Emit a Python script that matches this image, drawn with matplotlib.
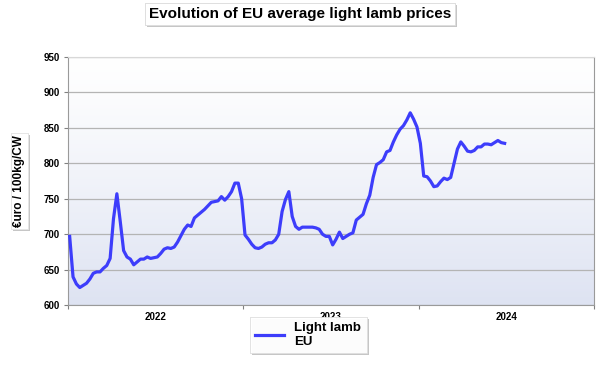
import numpy as np
import matplotlib
matplotlib.use('Agg')
import matplotlib.pyplot as plt
import matplotlib.patheffects as pe

plt.rcParams['font.family'] = ['Liberation Sans', 'DejaVu Sans']

# weekly EU average light lamb price, euro / 100kg CW, from week 1 of 2022
prices = [697, 640, 630, 625, 628, 631, 637, 645, 647, 647,
          652, 656, 666, 722, 757, 718, 677, 668, 665, 657,
          661, 665, 665, 668, 666, 667, 668, 673, 679, 681,
          680, 682, 689, 698, 707, 713, 711, 723, 727, 731,
          735, 740, 745, 746, 747, 753, 748, 753, 760, 772,
          772, 750, 699, 693, 686, 681, 680, 682, 686, 688,
          688, 692, 700, 732, 749, 760, 725, 711, 707, 710,
          710, 710, 710, 709, 707, 700, 697, 697, 685, 693,
          703, 694, 697, 700, 702, 720, 724, 728, 743, 755,
          780, 798, 801, 805, 816, 818, 830, 840, 848, 853,
          861, 871, 862, 851, 828, 782, 781, 775, 767, 768,
          774, 779, 777, 780, 800, 820, 830, 824, 817, 816,
          818, 823, 823, 827, 827, 826, 829, 832, 829, 828]
years = ['2022', '2023', '2024']
weeks_per_year = 52
series_name = 'Light lamb\nEU'
y_ticks = [600, 650, 700, 750, 800, 850, 900, 950]

fig = plt.figure(figsize=(6, 3.65), dpi=100)
ax = fig.add_axes([0.1133, 0.1636, 0.8767, 0.6811])

n_weeks = weeks_per_year * len(years)

# background gradient, pale blue at the bottom to white on top
grad = np.linspace(0, 1, 256)
top = np.array([1.0, 1.0, 1.0])
bottom = np.array([0.87, 0.89, 0.95])
t = (1 - grad) ** 1.2
img = top * (1 - t[:, None]) + bottom * t[:, None]
img = img.reshape(256, 1, 3)
ax.imshow(img, extent=[0, n_weeks, 600, 950], origin='lower', aspect='auto', zorder=0)

x = np.arange(len(prices)) + 0.5
ax.plot(x, prices, color='#3d3dfb', lw=2.3, label=series_name, zorder=3,
        solid_joinstyle='round')

ax.set_xlim(0, n_weeks)
ax.set_ylim(600, 950)
ax.set_yticks(y_ticks)
ax.set_yticklabels([str(v) for v in y_ticks], fontsize=7, fontweight='bold')
ax.yaxis.grid(True, color='#b4b4b4', lw=0.9)
ax.set_axisbelow(True)

ax.set_xticks(np.arange(0, n_weeks + 1, weeks_per_year))
ax.set_xticklabels([])
ax.set_xticks([weeks_per_year * (k + 0.5) for k in range(len(years))], minor=True)
ax.set_xticklabels(years, minor=True, fontsize=7, fontweight='bold')
ax.tick_params(axis='x', which='minor', length=0, pad=5)
ax.tick_params(axis='x', which='major', length=3, color='#808080')
ax.tick_params(axis='y', length=3, color='#808080', pad=3)

for side in ['left', 'bottom', 'right']:
    ax.spines[side].set_color('#9a9a9a')
ax.spines['top'].set_color('#d8d8d8')

shadow = [pe.withSimplePatchShadow(offset=(1.5, -1.5), shadow_rgbFace='#a0a0a0', alpha=0.6),
          pe.Normal()]

ylab = ax.set_ylabel('€uro / 100kg/CW', fontsize=8.5, fontweight='bold', labelpad=13)
ylab.set_bbox(dict(boxstyle='square,pad=0.2', fc='white', ec='#e0e0e0', lw=0.5))
ylab.get_bbox_patch().set_path_effects(shadow)

title = fig.text(0.5, 0.962, 'Evolution of EU average light lamb prices', ha='center', va='center',
                 fontsize=11, fontweight='bold',
                 bbox=dict(boxstyle='square,pad=0.25', fc='white', ec='#d8d8d8', lw=0.5))
title.get_bbox_patch().set_path_effects(shadow)

leg = fig.legend(loc='lower left', bbox_to_anchor=(0.405, 0.015),
                 prop={'weight': 'bold', 'size': 9.5}, fancybox=False, shadow=False,
                 handlelength=2.2, borderpad=0.4)
leg.get_frame().set_facecolor('white')
leg.get_frame().set_edgecolor('#d8d8d8')
leg.get_frame().set_linewidth(0.5)
leg.get_frame().set_path_effects(shadow)

fig.savefig('out.png', dpi=100)
